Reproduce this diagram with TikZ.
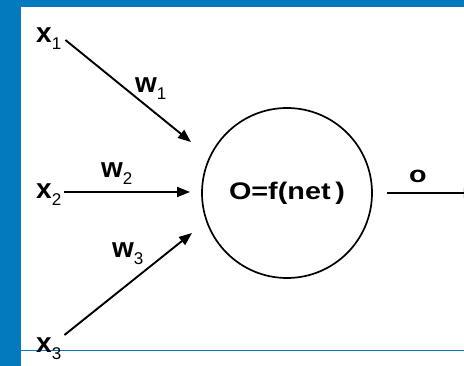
\documentclass[tikz,border=0pt]{standalone}
\usepackage{fontspec}
\setmainfont{Liberation Sans}
\usetikzlibrary{calc,arrows.meta}
\definecolor{frameBlue}{RGB}{4,122,190}
\newcommand{\myIdx}[2]{{\bfseries #1}\raisebox{-7pt}{\fontsize{17}{17}\selectfont #2}}
\tikzset{
myLabel/.style={
	inner sep=0pt, anchor=base west,
	font=\fontsize{28}{28}\selectfont
}
, myNeuron/.style={
	circle, draw, line width=1.7pt,
	minimum size=170pt, inner sep=0pt,
	font=\bfseries\fontsize{24}{24}\selectfont
}
% link
, myWire/.style={-{Triangle[length=13pt,width=10pt]},line width=1.9pt}
}

\begin{document}
\begin{tikzpicture}[x=1pt,y=-1pt]
	% frame
	\clip (0,0) rectangle (464,366);
	\fill[frameBlue] (0,0) rectangle (464,366);
	\fill[white] (21,7) rectangle (464,366);
	\draw[frameBlue, line width=1pt] (21,351) -- (464,351);

	% neuron
	\node[myNeuron] (neuron) at (287,193) {\scalebox{1.2}[1]{O=f(net\,)}};

	% inputs
	\node[myLabel] (x1) at (36,43) {\myIdx{x}{1}};
	\node[myLabel] (x2) at (36,199) {\myIdx{x}{2}};
	\node[myLabel] (x3) at (36,353) {\myIdx{x}{3}};
	\coordinate (in1) at (191,142);
	\coordinate (in2) at (190,192);
	\coordinate (in3) at (192,233);

	% weights
	\node[myLabel] (w1) at (135,93) {\myIdx{w}{1}};
	\node[myLabel] (w2) at (101,178) {\myIdx{w}{2}};
	\node[myLabel] (w3) at (112,258) {\myIdx{w}{3}};
	\node[myLabel] (out) at (409,183) {\bfseries\fontsize{23}{23}\selectfont\scalebox{1.25}[1]{o}};

	% links
	\draw [myWire] ($(x1.base east)+(4,-3)$) -- (in1);
	\draw [myWire] ($(x2.base east)+(3,-7)$) -- (in2);
	\draw [myWire] ($(x3.base east)+(3,-18)$) -- (in3);
	\draw [myWire] ([xshift=14pt]neuron.east) -- ++(90,0);
\end{tikzpicture}
\end{document}
